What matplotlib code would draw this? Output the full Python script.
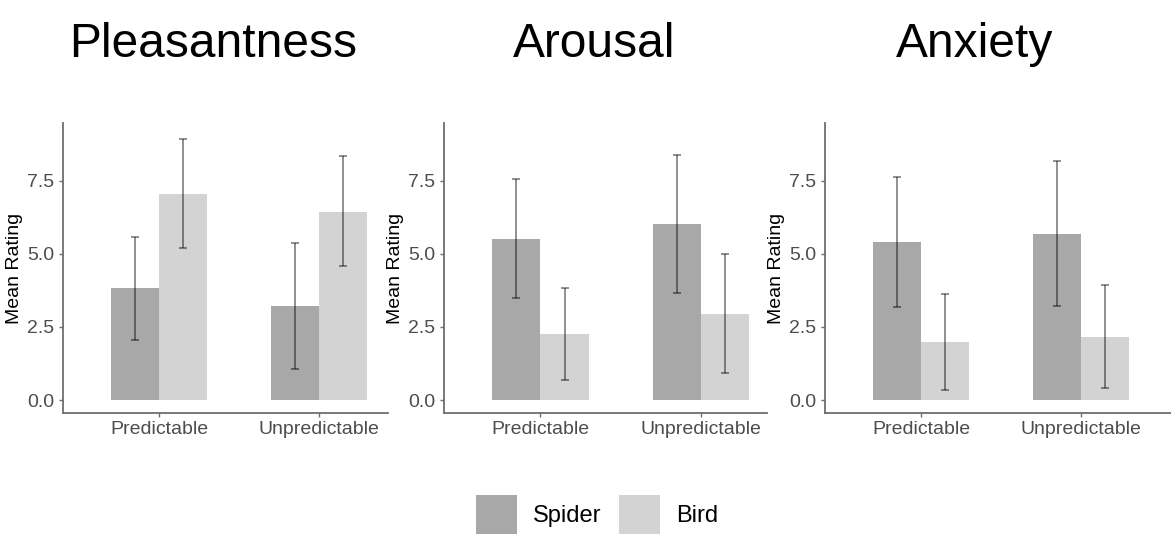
import numpy as np
import matplotlib
matplotlib.use("Agg")
import matplotlib.pyplot as plt
from matplotlib.patches import Patch

plt.rcParams['font.family'] = ['Liberation Sans', 'DejaVu Sans']

conditions = ["Predictable", "Unpredictable"]
groups = ["Spider", "Bird"]
titles = ["Pleasantness", "Arousal", "Anxiety"]

# means and error bar ends (lower, upper) per group
pleas_spider = [3.82, 3.22]
pleas_spider_lo = [2.06, 1.06]
pleas_spider_hi = [5.59, 5.38]
pleas_bird = [7.04, 6.44]
pleas_bird_lo = [5.19, 4.58]
pleas_bird_hi = [8.92, 8.34]

arous_spider = [5.51, 6.02]
arous_spider_lo = [3.48, 3.66]
arous_spider_hi = [7.56, 8.38]
arous_bird = [2.26, 2.94]
arous_bird_lo = [0.69, 0.93]
arous_bird_hi = [3.82, 4.98]

anx_spider = [5.41, 5.69]
anx_spider_lo = [3.19, 3.20]
anx_spider_hi = [7.63, 8.18]
anx_bird = [1.99, 2.16]
anx_bird_lo = [0.35, 0.41]
anx_bird_hi = [3.64, 3.93]

yticks = [0.0, 2.5, 5.0, 7.5]
ytick_labels = ["0.0", "2.5", "5.0", "7.5"]

colors = {"Spider": "#a8a8a8", "Bird": "#d3d3d3"}
axis_col = "#6e6e6e"
tick_col = "#4d4d4d"

W, H = 1171, 534
fig = plt.figure(figsize=(W / 100, H / 100), dpi=100)

# panel boxes in pixels: left, right ; shared top/bottom
boxes = [(63, 388), (444, 767), (825, 1171)]
top_px, bot_px = 123, 413
xlims = [(0.4, 2.43), (0.4, 2.41), (0.4, 2.56)]
title_x = [213, 594, 975]

panels = [
    ((pleas_spider, pleas_spider_lo, pleas_spider_hi), (pleas_bird, pleas_bird_lo, pleas_bird_hi)),
    ((arous_spider, arous_spider_lo, arous_spider_hi), (arous_bird, arous_bird_lo, arous_bird_hi)),
    ((anx_spider, anx_spider_lo, anx_spider_hi), (anx_bird, anx_bird_lo, anx_bird_hi)),
]

x = np.arange(1, len(conditions) + 1)
bw = 0.3
for i, (box, pdata) in enumerate(zip(boxes, panels)):
    l, r = box
    ax = fig.add_axes([l / W, 1 - bot_px / H, (r - l) / W, (bot_px - top_px) / H])
    for j, g in enumerate(groups):
        m, lo, hi = [np.array(v) for v in pdata[j]]
        xs = x + (j - 0.5) * bw
        ax.bar(xs, m, width=bw, color=colors[g], zorder=1)
        ax.errorbar(xs, m, yerr=[m - lo, hi - m], fmt='none', ecolor='black',
                    alpha=0.55, elinewidth=1.1, capsize=3, capthick=1.1, zorder=2)
    ax.set_xlim(*xlims[i])
    ax.set_ylim(-0.44, 9.47)
    ax.set_xticks(x)
    ax.set_xticklabels(conditions)
    ax.set_yticks(yticks)
    ax.set_yticklabels(ytick_labels)
    ax.set_ylabel("Mean Rating", fontsize=14, color="black", labelpad=3)
    ax.tick_params(axis='both', labelsize=14, colors=axis_col, labelcolor=tick_col,
                   length=3, width=1)
    ax.tick_params(axis='x', pad=3)
    for s in ['top', 'right']:
        ax.spines[s].set_visible(False)
    for s in ['left', 'bottom']:
        ax.spines[s].set_color(axis_col)
        ax.spines[s].set_linewidth(1.3)
    fig.text(title_x[i] / W, 1 - 57 / H, titles[i], fontsize=34.5, ha='center',
             va='baseline', color='black')

handles = [Patch(facecolor=colors[g], edgecolor='none', label=g) for g in groups]
fig.legend(handles=handles, loc='center', bbox_to_anchor=(597 / W, 1 - 515 / H),
           ncol=2, frameon=False, fontsize=17, handlelength=1.75, handleheight=2.2,
           handletextpad=0.65, columnspacing=0.75, borderpad=0)

fig.savefig("out.png", dpi=100, facecolor="white")
